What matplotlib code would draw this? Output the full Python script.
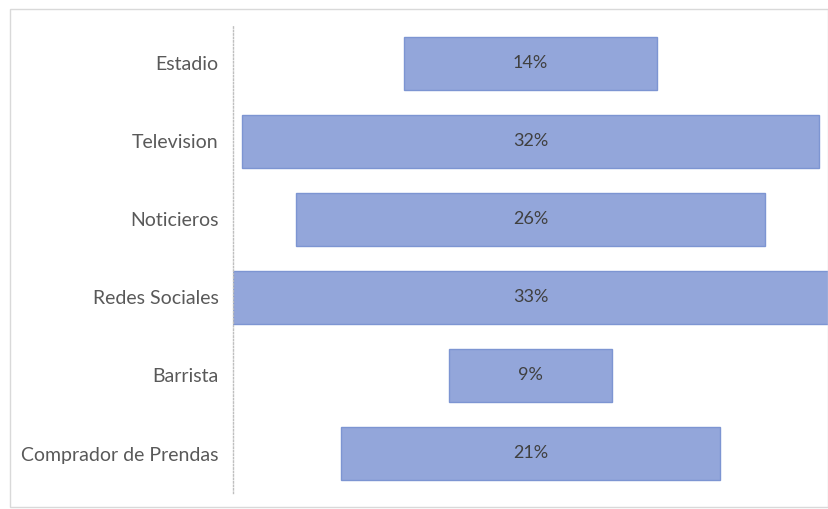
import matplotlib.pyplot as plt
from matplotlib.patches import Rectangle

# --- Data ---
categories = ['Estadio', 'Television', 'Noticieros', 'Redes Sociales', 'Barrista', 'Comprador de Prendas']
values = [14, 32, 26, 33, 9, 21]
labels = ['14%', '32%', '26%', '33%', '9%', '21%']

plt.rcParams['font.family'] = ['Lato', 'DejaVu Sans']

fig = plt.figure(figsize=(8.29, 5.09), dpi=100)
ax = fig.add_axes([233 / 829, 1 - 492.5 / 509, 595 / 829, 468 / 509])

# centred (funnel-style) bars
lefts = [-v / 2 for v in values]
ax.barh(range(len(categories)), values, left=lefts, height=0.68,
        color='#93a6da', edgecolor='#7d95d2', linewidth=1.0)

for i, (v, lab) in enumerate(zip(values, labels)):
    ax.text(0, i, lab, ha='center', va='center', fontsize=13, color='#404040')

ax.set_xlim(-16.5, 16.5)
ax.set_ylim(len(categories) - 0.5, -0.5)
ax.set_yticks(range(len(categories)))
ax.set_yticklabels(categories, fontsize=14, color='#595959')
ax.tick_params(axis='y', length=0, pad=10.5)
ax.set_xticks([])

for side in ['top', 'right', 'bottom']:
    ax.spines[side].set_visible(False)
ax.spines['left'].set_linestyle((0, (1, 1.5)))
ax.spines['left'].set_color('#bfbfbf')
ax.spines['left'].set_linewidth(1.0)

# light frame round the chart
fig.patches.append(Rectangle((10 / 829, 1 - 507 / 509), 818 / 829, 498 / 509,
                             transform=fig.transFigure, fill=False,
                             edgecolor='#d9d9d9', linewidth=1.0))

plt.savefig('out.png', dpi=100)
